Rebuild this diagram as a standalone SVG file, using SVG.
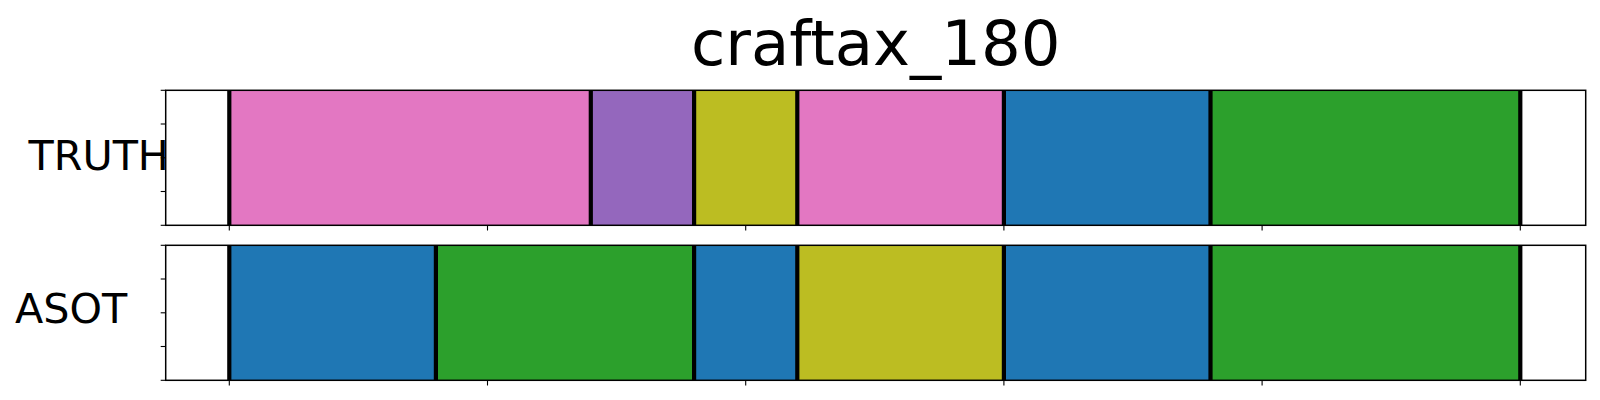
<svg xmlns="http://www.w3.org/2000/svg" width="1600" height="400" viewBox="0 0 1600 400">
<style>
.t{font-family:"DejaVu Sans","Liberation Sans",sans-serif;fill:#000}
.sp{fill:none;stroke:#000;stroke-width:1.5}
.tk{stroke:#000;stroke-width:1.1}
.bd{stroke:#000;stroke-width:4.2}
.pink{fill:#e377c2}.purple{fill:#9467bd}.olive{fill:#bcbd22}.blue{fill:#1f77b4}.green{fill:#2ca02c}
</style>
<rect width="1600" height="400" fill="#fff"/>
<text class="t" x="875.7" y="65" font-size="62.5" text-anchor="middle">craftax_180</text>
<g id="truth">
<rect class="pink" x="229.3" y="90.3" width="361.5" height="135"/>
<rect class="purple" x="590.8" y="90.3" width="103.3" height="135"/>
<rect class="olive" x="694.1" y="90.3" width="103.2" height="135"/>
<rect class="pink" x="797.3" y="90.3" width="206.6" height="135"/>
<rect class="blue" x="1003.9" y="90.3" width="206.6" height="135"/>
<rect class="green" x="1210.5" y="90.3" width="309.8" height="135"/>
<g class="bd">
<line x1="229.3" y1="90.3" x2="229.3" y2="225.3"/>
<line x1="590.8" y1="90.3" x2="590.8" y2="225.3"/>
<line x1="694.1" y1="90.3" x2="694.1" y2="225.3"/>
<line x1="797.3" y1="90.3" x2="797.3" y2="225.3"/>
<line x1="1003.9" y1="90.3" x2="1003.9" y2="225.3"/>
<line x1="1210.5" y1="90.3" x2="1210.5" y2="225.3"/>
<line x1="1520.3" y1="90.3" x2="1520.3" y2="225.3"/>
</g>
<rect class="sp" x="165.7" y="90.3" width="1420" height="135"/>
<g class="tk">
<line x1="160.7" y1="90.3" x2="165.7" y2="90.3"/>
<line x1="160.7" y1="124" x2="165.7" y2="124"/>
<line x1="160.7" y1="157.8" x2="165.7" y2="157.8"/>
<line x1="160.7" y1="191.5" x2="165.7" y2="191.5"/>
<line x1="160.7" y1="225.3" x2="165.7" y2="225.3"/>
<line x1="229.3" y1="225.3" x2="229.3" y2="230.5"/>
<line x1="487.5" y1="225.3" x2="487.5" y2="230.5"/>
<line x1="745.7" y1="225.3" x2="745.7" y2="230.5"/>
<line x1="1003.9" y1="225.3" x2="1003.9" y2="230.5"/>
<line x1="1262.1" y1="225.3" x2="1262.1" y2="230.5"/>
<line x1="1520.3" y1="225.3" x2="1520.3" y2="230.5"/>
</g>
<text class="t" x="28.5" y="170" font-size="41.3">TRUTH</text>
</g>
<g id="asot">
<rect class="blue" x="229.3" y="245.3" width="206.6" height="135"/>
<rect class="green" x="435.9" y="245.3" width="258.2" height="135"/>
<rect class="blue" x="694.1" y="245.3" width="103.2" height="135"/>
<rect class="olive" x="797.3" y="245.3" width="206.6" height="135"/>
<rect class="blue" x="1003.9" y="245.3" width="206.6" height="135"/>
<rect class="green" x="1210.5" y="245.3" width="309.8" height="135"/>
<g class="bd">
<line x1="229.3" y1="245.3" x2="229.3" y2="380.3"/>
<line x1="435.9" y1="245.3" x2="435.9" y2="380.3"/>
<line x1="694.1" y1="245.3" x2="694.1" y2="380.3"/>
<line x1="797.3" y1="245.3" x2="797.3" y2="380.3"/>
<line x1="1003.9" y1="245.3" x2="1003.9" y2="380.3"/>
<line x1="1210.5" y1="245.3" x2="1210.5" y2="380.3"/>
<line x1="1520.3" y1="245.3" x2="1520.3" y2="380.3"/>
</g>
<rect class="sp" x="165.7" y="245.3" width="1420" height="135"/>
<g class="tk">
<line x1="160.7" y1="245.3" x2="165.7" y2="245.3"/>
<line x1="160.7" y1="279" x2="165.7" y2="279"/>
<line x1="160.7" y1="312.8" x2="165.7" y2="312.8"/>
<line x1="160.7" y1="346.5" x2="165.7" y2="346.5"/>
<line x1="160.7" y1="380.3" x2="165.7" y2="380.3"/>
<line x1="229.3" y1="380.3" x2="229.3" y2="385.5"/>
<line x1="487.5" y1="380.3" x2="487.5" y2="385.5"/>
<line x1="745.7" y1="380.3" x2="745.7" y2="385.5"/>
<line x1="1003.9" y1="380.3" x2="1003.9" y2="385.5"/>
<line x1="1262.1" y1="380.3" x2="1262.1" y2="385.5"/>
<line x1="1520.3" y1="380.3" x2="1520.3" y2="385.5"/>
</g>
<text class="t" x="15" y="322.7" font-size="41.3">ASOT</text>
</g>
</svg>
